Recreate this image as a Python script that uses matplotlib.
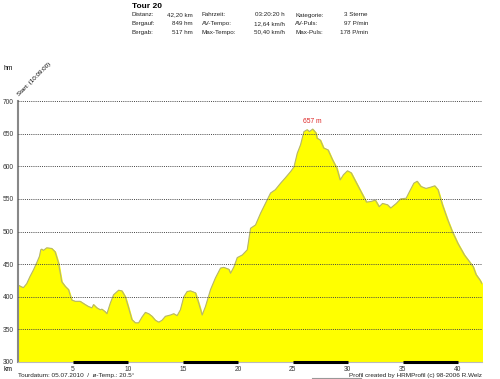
import numpy as np
import matplotlib
matplotlib.use("Agg")
import matplotlib.pyplot as plt

plt.rcParams["font.family"] = ["Liberation Sans", "DejaVu Sans"]

# elevation profile (km, hm)
km = [0.0, 0.33, 0.49, 0.79, 1.09, 1.4, 1.7, 1.95, 2.07, 2.16, 2.31, 2.61, 3.07, 3.37, 3.68,
      3.98, 4.29, 4.59, 4.89, 5.2, 5.65, 6.11, 6.41, 6.72, 6.87, 7.17, 7.48, 7.63, 7.93,
      8.09, 8.39, 8.69, 9.15, 9.45, 9.76, 10.06, 10.36, 10.67, 10.97, 11.28, 11.58, 11.88,
      12.19, 12.49, 12.8, 13.1, 13.4, 13.86, 14.16, 14.47, 14.77, 15.08, 15.38, 15.68,
      16.14, 16.44, 16.75, 17.05, 17.51, 17.96, 18.42, 18.72, 19.18, 19.33, 19.64, 19.94,
      20.4, 20.85, 21.15, 21.6, 22.06, 22.5, 22.97, 23.4, 23.88, 24.3, 24.8, 25.1, 25.4,
      25.7, 26.0, 26.3, 26.5, 26.8, 27.1, 27.2, 27.5, 27.8, 28.2, 28.6, 29.0, 29.3, 29.6,
      29.96, 30.3, 30.7, 31.2, 31.7, 32.1, 32.5, 32.85, 33.15, 33.6, 33.9, 34.4, 34.8,
      35.3, 35.6, 36.0, 36.3, 36.65, 37.1, 37.55, 37.9, 38.2, 38.6, 39.08, 39.5, 40.0,
      40.6, 41.05, 41.4, 41.66, 42.0, 42.2]
hm = [418, 415, 414, 420, 431, 441, 452, 462, 472, 473, 471, 475, 474, 469, 452,
      423, 416, 411, 395, 393, 393, 388, 385, 383, 388, 383, 380, 381, 377,
      374, 390, 403, 410, 409, 400, 383, 365, 360, 360, 369, 376, 374,
      370, 364, 361, 364, 370, 372, 374, 371, 380, 400, 408, 409,
      406, 390, 372, 385, 411, 429, 444, 445, 442, 436, 446, 460,
      464, 472, 505, 510, 528, 543, 559, 564, 574, 582, 592, 599, 620,
      633, 653, 656, 653, 657, 651, 643, 640, 628, 625, 610, 597, 579, 587,
      593, 590, 577, 561, 545, 546, 548, 538, 543, 541, 536, 543, 550,
      551, 561, 574, 577, 569, 566, 568, 570, 564, 541, 518, 500, 482,
      464, 454, 446, 434, 426, 420]

yticks = [300, 350, 400, 450, 500, 550, 600, 650, 700]
xticks = [5, 10, 15, 20, 25, 30, 35, 40]
black_bars = [(5, 10), (15, 20), (25, 30), (35, 40)]

stats = [["Distanz:", "42,20 km", "Fahrzeit:", "03:20:20 h", "Kategorie:", "3 Sterne"],
         ["Bergauf:", "849 hm", "AV-Tempo:", "12,64 km/h", "AV-Puls:", "97 P/min"],
         ["Bergab:", "517 hm", "Max-Tempo:", "50,40 km/h", "Max-Puls:", "178 P/min"]]

fig = plt.figure(figsize=(5, 3.79), dpi=100)
ax = fig.add_axes([18/500, 17/379, 464/500, 261/379])
ax.fill_between(km, 300, hm, color="#ffff00", zorder=1)
ax.plot(km, hm, color="#b4b46e", lw=0.8, zorder=2)
ax.set_xlim(0, 42.2)
ax.set_ylim(300, 700)

for y in yticks[1:]:
    ax.axhline(y, color="#444444", lw=0.7, ls=(0, (1, 1.2)), zorder=3)

for s in ["top", "right"]:
    ax.spines[s].set_visible(False)
ax.spines["left"].set_color("#888888")
ax.spines["left"].set_linewidth(1.5)
ax.spines["bottom"].set_color("#bbbbbb")
ax.spines["bottom"].set_linewidth(0.8)
for a, b in black_bars:
    ax.plot([a, b], [300, 300], color="black", lw=2.2, solid_capstyle="butt",
            clip_on=False, zorder=5)

ax.set_yticks(yticks)
ax.set_yticklabels([str(v) for v in yticks], fontsize=4.8, color="#333333")
ax.set_xticks(xticks)
ax.set_xticklabels([str(v) for v in xticks], fontsize=4.8, color="#333333")
ax.tick_params(length=0, pad=3)

imax = int(np.argmax(hm))
ax.text(km[imax], hm[imax] + 6, "%d m" % hm[imax], color="#dd2222", fontsize=4.8,
        ha="center", va="bottom")

# header
fig.text(132/500, 1 - 3/379, "Tour 20", fontsize=6, fontweight="bold", va="top")
xs = [(132, "left"), (193, "right"), (202, "left"), (285, "right"), (295, "left"), (368, "right")]
for r, row in enumerate(stats):
    for (x, ha), t in zip(xs, row):
        fig.text(x/500, 1 - (15 + 8.6*r)/379, t, fontsize=4.5, ha=ha, va="center",
                 color="#222222")

fig.text(3/500, 1 - 68/379, "hm", fontsize=4.8, va="center")
fig.text(20/500, 1 - 97/379, "Start: (10:09:00)", fontsize=4.5, rotation=45,
         ha="left", va="bottom", rotation_mode="anchor")
fig.text(3/500, 1 - 369.5/379, "km", fontsize=4.8, va="center")
fig.text(18/500, 1 - 375.5/379, "Tourdatum: 05.07.2010  /  ø-Temp.: 20.5°", fontsize=4.6,
         va="center", color="#222222")
fig.text(482/500, 1 - 375.5/379, "Profil created by HRMProfil (c) 98-2006 R.Welz", fontsize=4.6,
         ha="right", va="center", color="#222222")
fig.add_artist(plt.Line2D([312/500, 361/500], [1 - 378/379, 1 - 378/379],
                          color="#999999", lw=0.8))

fig.savefig("out.png", dpi=100)
